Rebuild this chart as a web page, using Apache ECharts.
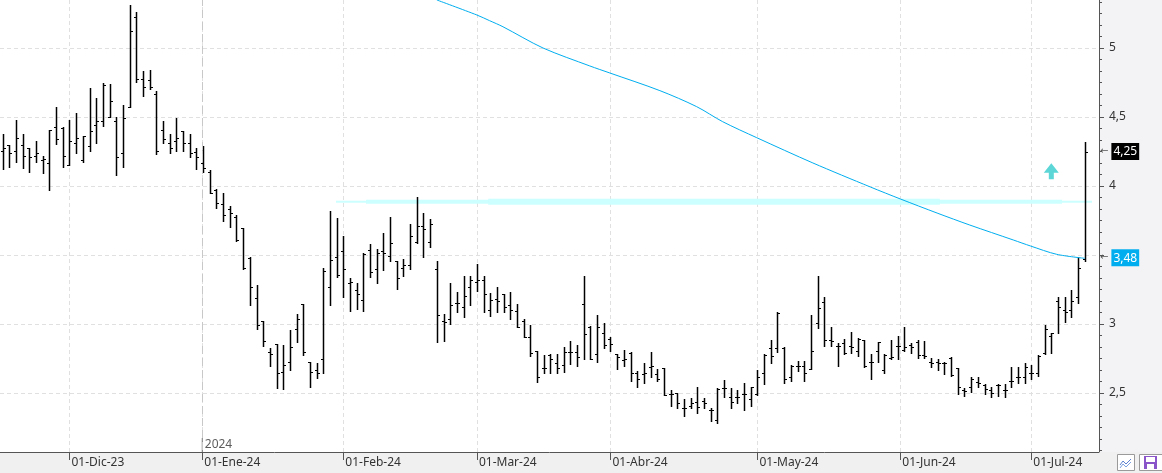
<!DOCTYPE html>
<html>
<head>
<meta charset="utf-8">
<script src="https://cdn.jsdelivr.net/npm/echarts@6/dist/echarts.min.js"></script>
<style>
  html, body { margin: 0; padding: 0; background: #f3f3f6; }
  #chart { width: 1162px; height: 473px; }
</style>
</head>
<body>
<div id="chart"></div>
<script>
// month ticks (position in trading-day index) and their labels
var monthPos = [10, 29.88, 51, 71, 91, 113, 134.4, 154];
var monthLabels = ['01-Dic-23', '01-Ene-24', '01-Feb-24', '01-Mar-24', '01-Abr-24', '01-May-24', '01-Jun-24', '01-Jul-24'];
var yearPos = 29.88;
var yearLabel = '2024';

// daily bars, one per trading day (index 0..162)
var barOpen = [4.256,4.295,4.256,4.295,4.273,4.217,4.188,4.164,4.425,4.420,
  4.154,4.309,4.188,4.288,4.440,4.469,4.502,4.469,4.241,4.575,
  5.222,4.778,4.766,4.664,4.406,4.314,4.324,4.396,4.309,4.246,
  4.164,4.101,3.971,3.872,3.836,3.778,3.693,3.478,3.186,3.022,
  2.795,2.855,2.650,2.727,2.961,3.145,2.722,2.669,2.744,3.266,
  3.488,3.529,3.295,3.246,3.174,3.534,3.396,3.527,3.491,3.457,
  3.404,3.425,3.594,3.708,3.594,3.396,3.020,3.039,3.150,3.121,
  3.266,3.304,3.319,3.101,3.180,3.220,3.138,3.096,3.024,2.904,
  2.807,2.679,2.773,2.715,2.703,2.795,2.795,3.145,2.980,2.780,
  2.932,2.891,2.780,2.739,2.792,2.647,2.636,2.686,2.638,2.679,
  2.493,2.498,2.389,2.408,2.437,2.444,2.377,2.304,2.534,2.473,
  2.473,2.493,2.454,2.491,2.647,2.824,2.824,2.824,2.618,2.696,
  2.696,2.672,3.005,3.162,2.884,2.841,2.860,2.843,2.807,2.884,
  2.727,2.807,2.667,2.751,2.841,2.812,2.848,2.872,2.775,2.727,
  2.727,2.715,2.751,2.679,2.522,2.546,2.582,2.558,2.522,2.558,
  2.522,2.589,2.614,2.618,2.643,2.647,2.788,2.913,3.169,3.101,
  3.101,3.198,3.470];
var barHigh = [4.377,4.295,4.478,4.377,4.275,4.324,4.217,4.406,4.570,4.430,
  4.478,4.527,4.362,4.710,4.635,4.744,4.739,4.498,4.585,5.312,
  5.261,4.833,4.840,4.688,4.471,4.375,4.495,4.398,4.375,4.275,
  4.290,4.116,3.976,3.949,3.855,3.788,3.693,3.483,3.280,3.022,
  2.824,2.855,2.848,2.957,3.072,3.145,2.722,2.717,3.403,3.817,
  3.768,3.638,3.331,3.297,3.514,3.580,3.543,3.662,3.775,3.457,
  3.473,3.725,3.920,3.804,3.761,3.457,3.072,3.295,3.230,3.346,
  3.348,3.433,3.348,3.225,3.268,3.220,3.232,3.145,3.034,2.991,
  2.807,2.773,2.783,2.783,2.835,2.879,2.848,3.348,2.985,3.063,
  3.010,2.904,2.780,2.812,2.797,2.662,2.715,2.795,2.672,2.683,
  2.522,2.498,2.457,2.462,2.546,2.462,2.389,2.534,2.594,2.534,
  2.522,2.570,2.546,2.667,2.783,2.884,3.087,2.831,2.703,2.732,
  2.732,3.065,3.348,3.198,2.976,2.860,2.889,2.940,2.901,2.884,
  2.783,2.872,2.783,2.884,2.913,2.980,2.860,2.884,2.879,2.751,
  2.744,2.727,2.758,2.679,2.534,2.614,2.618,2.565,2.546,2.565,
  2.565,2.686,2.686,2.720,2.703,2.775,2.993,2.932,3.198,3.198,
  3.246,3.488,4.321];
var barLow = [4.125,4.140,4.174,4.133,4.104,4.174,4.096,3.973,4.307,4.140,
  4.154,4.241,4.176,4.256,4.314,4.437,4.498,4.082,4.140,4.575,
  4.756,4.654,4.705,4.234,4.314,4.241,4.256,4.256,4.212,4.125,
  4.101,3.947,3.843,3.749,3.705,3.604,3.396,3.140,2.961,2.843,
  2.698,2.538,2.531,2.667,2.870,2.773,2.543,2.609,2.645,3.140,
  3.343,3.198,3.096,3.107,3.096,3.343,3.299,3.394,3.457,3.251,
  3.350,3.401,3.585,3.488,3.560,2.872,2.879,3.002,3.089,3.053,
  3.140,3.241,3.089,3.060,3.089,3.089,3.038,2.976,2.904,2.768,
  2.582,2.647,2.647,2.647,2.652,2.712,2.696,2.746,2.744,2.727,
  2.824,2.807,2.672,2.698,2.589,2.546,2.570,2.614,2.589,2.488,
  2.408,2.389,2.336,2.389,2.353,2.389,2.299,2.281,2.469,2.389,
  2.425,2.377,2.408,2.486,2.565,2.720,2.799,2.570,2.589,2.662,
  2.589,2.672,2.973,2.843,2.843,2.696,2.783,2.788,2.770,2.691,
  2.599,2.727,2.643,2.744,2.744,2.807,2.792,2.751,2.751,2.691,
  2.667,2.638,2.623,2.491,2.481,2.510,2.541,2.493,2.473,2.478,
  2.469,2.541,2.575,2.570,2.599,2.623,2.783,2.792,2.932,3.017,
  3.053,3.150,3.459];
var barClose = [4.273,4.237,4.348,4.217,4.208,4.237,4.193,4.406,4.338,4.217,
  4.324,4.348,4.362,4.396,4.469,4.730,4.614,4.208,4.493,5.125,
  4.778,4.715,4.715,4.256,4.338,4.273,4.346,4.314,4.241,4.208,
  4.133,3.947,3.875,3.790,3.802,3.611,3.408,3.266,2.991,2.875,
  2.780,2.643,2.703,2.831,3.034,2.799,2.650,2.643,3.382,3.464,
  3.357,3.396,3.302,3.215,3.507,3.375,3.512,3.512,3.585,3.331,
  3.430,3.638,3.708,3.686,3.727,3.063,3.012,3.135,3.154,3.201,
  3.317,3.319,3.215,3.174,3.170,3.121,3.101,2.976,2.908,2.792,
  2.618,2.683,2.744,2.679,2.795,2.795,2.759,2.925,2.744,2.976,
  2.848,2.853,2.763,2.744,2.643,2.599,2.647,2.696,2.599,2.488,
  2.493,2.430,2.389,2.425,2.401,2.425,2.377,2.527,2.534,2.437,
  2.473,2.493,2.546,2.618,2.775,2.768,3.077,2.599,2.696,2.696,
  2.643,2.807,3.114,2.884,2.879,2.841,2.792,2.836,2.889,2.696,
  2.727,2.872,2.775,2.760,2.841,2.836,2.831,2.775,2.768,2.720,
  2.715,2.715,2.630,2.546,2.517,2.599,2.575,2.527,2.502,2.558,
  2.522,2.589,2.618,2.691,2.643,2.768,2.962,2.932,3.121,3.089,
  3.169,3.404,4.244];

// moving average: [index, value]
var maPoints = [[65,5.348],[71,5.239],[72.9,5.198],[74.9,5.154],[80.9,5.000],[87.9,4.870],
  [90.9,4.819],[98.4,4.691],[103.9,4.575],[107.8,4.466],[112.9,4.350],[121.3,4.167],
  [129.9,3.993],[134.4,3.906],[139.9,3.804],[144.8,3.717],[151.3,3.609],[153.9,3.565],
  [157.8,3.505],[162,3.476]];

// horizontal resistance level drawn as overlapping strokes: [from, to, value, width]
var levelLines = [[49.9,163.1,3.886,2],[54.4,158.6,3.886,4],[72.7,140.3,3.886,6]];

var lastPrice = 4.25, lastPriceText = '4,25';
var maLast = 3.48, maLastText = '3,48';
var arrowPoint = [157, 4.107];

var ohlc = barOpen.map(function (o, i) {
  return [i, o, barHigh[i], barLow[i], barClose[i]];
});

var fnt = 'Noto Sans';

function renderBar(params, api) {
  var i = api.value(0);
  var o = api.coord([i, api.value(1)]);
  var h = api.coord([i, api.value(2)]);
  var l = api.coord([i, api.value(3)]);
  var c = api.coord([i, api.value(4)]);
  var x = Math.round(h[0]) + 0.5;
  var st = { stroke: '#000', lineWidth: 1.5 };
  var oy = Math.round(o[1]) + 0.5, cy = Math.round(c[1]) + 0.5;
  return {
    type: 'group',
    children: [
      { type: 'line', shape: { x1: x, y1: Math.round(h[1]), x2: x, y2: Math.round(l[1]) + 1 }, style: st },
      { type: 'line', shape: { x1: x - 2.5, y1: oy, x2: x, y2: oy }, style: { stroke: '#000', lineWidth: 1 } },
      { type: 'line', shape: { x1: x, y1: cy, x2: x + 2.5, y2: cy }, style: { stroke: '#000', lineWidth: 1 } }
    ]
  };
}

function fmtX(v) {
  var k = 0, best = 1e9;
  for (var j = 0; j < monthPos.length; j++) {
    var d = Math.abs(monthPos[j] - v);
    if (d < best) { best = d; k = j; }
  }
  return monthLabels[k];
}

function fmtY(v) {
  if (v === 3.5 || v < 2.4 || v > 5.2) return '';
  return String(v).replace('.', ',');
}

function priceTag(text, bg) {
  return {
    formatter: '{a|←}{b|' + text + '}',
    rich: {
      a: { color: '#555', fontSize: 10, fontFamily: 'DejaVu Sans', padding: [0, 3, 0, 0] },
      b: { color: '#fff', backgroundColor: bg, fontSize: 12, fontFamily: fnt, padding: [3, 2, 2, 2] }
    }
  };
}

var chart = echarts.init(document.getElementById('chart'));

var series = [];
levelLines.forEach(function (ln) {
  series.push({
    type: 'line', silent: true, symbol: 'none', z: 1,
    data: [[ln[0], ln[2]], [ln[1], ln[2]]],
    lineStyle: { color: '#ccffff', width: ln[3] }
  });
});
series.push({
  type: 'custom', name: 'bars', renderItem: renderBar, data: ohlc, z: 3,
  encode: { x: 0, y: [1, 2, 3, 4] }
});
series.push({
  type: 'line', name: 'ma', data: maPoints, symbol: 'none', clip: false, z: 4, smooth: 0.3,
  lineStyle: { color: '#00aeef', width: 1 },
  markLine: {
    silent: true, symbol: 'none',
    lineStyle: { color: 'rgba(0,0,0,0)', width: 1 },
    label: { show: true, position: 'end', distance: 1 },
    data: [
      { yAxis: lastPrice, label: priceTag(lastPriceText, '#000') },
      { yAxis: maLast, label: priceTag(maLastText, '#00aeef') }
    ]
  }
});
series.push({
  type: 'scatter', data: [arrowPoint], silent: true, z: 4,
  symbol: 'path://M7.5,0 L15,9.5 L10,9.5 L10,16 L5,16 L5,9.5 L0,9.5 Z',
  symbolSize: [15, 16], itemStyle: { color: '#33cccc' }
});
series.push({
  type: 'scatter', data: [[yearPos, 2.0725]], silent: true, z: 2, clip: false,
  symbol: 'rect', symbolSize: [1, 14], symbolOffset: [0, -7],
  itemStyle: { color: '#555' },
  label: { show: true, position: 'right', distance: 2, formatter: yearLabel, color: '#333', fontSize: 12, fontFamily: fnt },
  markLine: {
    silent: true, symbol: 'none', label: { show: false },
    lineStyle: { color: '#c8c8c8', type: [8, 4], width: 1 },
    data: [{ xAxis: yearPos }]
  }
});

chart.setOption({
  animation: false,
  grid: { left: 0, right: 63, top: -21, bottom: 11, show: true, backgroundColor: '#fff', borderWidth: 0, outerBoundsMode: 'none' },
  xAxis: [{
    type: 'value', min: -0.404, max: 164.14, z: 0,
    axisLine: { show: false, onZero: false }, axisTick: { show: false, customValues: monthPos }, axisLabel: { show: false },
    splitLine: { show: true, lineStyle: { color: '#e0e0e0', type: [4, 3] } }
  }, {
    type: 'value', min: -0.404, max: 164.14, offset: -10, z: 110, position: 'bottom',
    axisLine: { show: true, onZero: false, lineStyle: { color: '#555' } },
    axisTick: { show: true, customValues: monthPos, length: 8, lineStyle: { color: '#555' } },
    axisLabel: { customValues: monthPos, formatter: fmtX, align: 'left', margin: 5, padding: [0, 0, 0, 2], color: '#333', fontSize: 12, fontFamily: fnt },
    splitLine: { show: false }
  }],
  yAxis: {
    type: 'value', position: 'right', min: 2, max: 5.5, interval: 0.5,
    axisLine: { show: true, onZero: false, lineStyle: { color: '#555' } },
    axisTick: { show: true, length: 5, lineStyle: { color: '#555' } },
    minorTick: { show: true, splitNumber: 6, length: 3, lineStyle: { color: '#555' } },
    axisLabel: { margin: 10, color: '#333', fontSize: 12, fontFamily: fnt, formatter: fmtY },
    splitLine: { show: true, lineStyle: { color: '#e0e0e0', type: [4, 3] } }
  },
  graphic: [
    { type: 'rect', z: 100, silent: true, shape: { x: 0, y: 452, width: 1162, height: 21 }, style: { fill: '#f0f0f0' } },
    { type: 'rect', z: 120, silent: true, shape: { x: 1117.5, y: 454.5, width: 17, height: 16 }, style: { fill: '#fff', stroke: '#9a9a9a' } },
    { type: 'polyline', z: 121, silent: true, shape: { points: [[1120, 465], [1123, 461], [1126, 464], [1131, 459]] }, style: { stroke: '#5b7fd0', fill: null, lineWidth: 1 } },
    { type: 'polyline', z: 121, silent: true, shape: { points: [[1120, 468], [1123, 464], [1126, 467], [1131, 462]] }, style: { stroke: '#7aa0e0', fill: null, lineWidth: 1 } },
    { type: 'rect', z: 120, silent: true, shape: { x: 1139.5, y: 454.5, width: 23, height: 16 }, style: { fill: '#fff', stroke: '#9a9a9a' } },
    { type: 'rect', z: 121, silent: true, shape: { x: 1144, y: 456, width: 13, height: 13 }, style: { fill: '#8a55c8' } },
    { type: 'rect', z: 122, silent: true, shape: { x: 1146, y: 457, width: 9, height: 5 }, style: { fill: '#fff' } },
    { type: 'rect', z: 122, silent: true, shape: { x: 1147, y: 464, width: 7, height: 5 }, style: { fill: '#fff' } }
  ],
  series: series
});
</script>
</body>
</html>
